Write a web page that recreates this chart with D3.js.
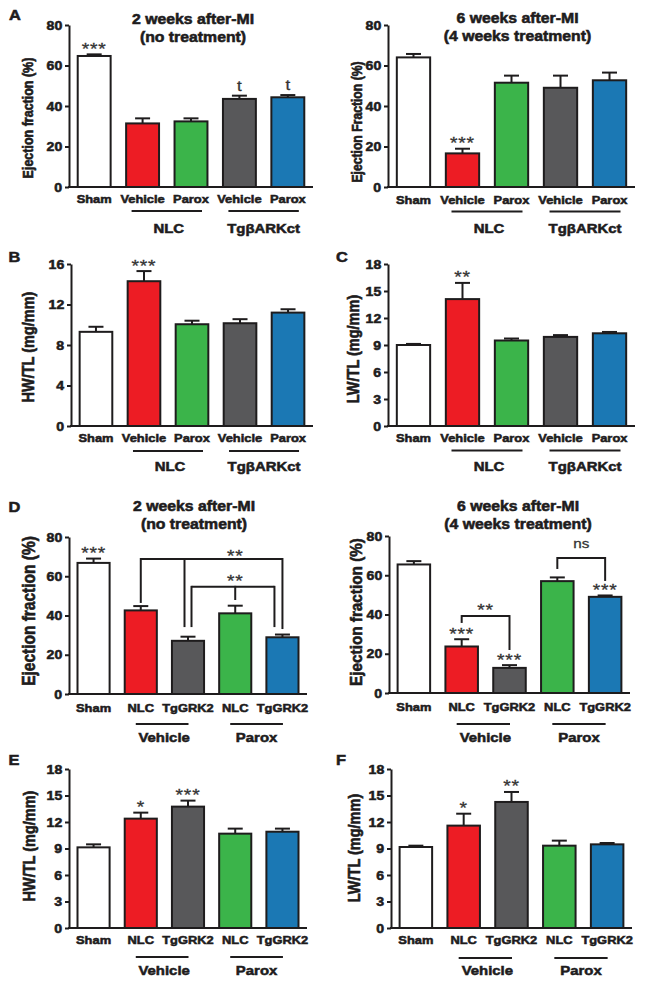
<!DOCTYPE html>
<html><head><meta charset="utf-8">
<script src="https://cdn.jsdelivr.net/npm/d3@7"></script>
<style>
body{margin:0;background:#fff}
svg text{font-family:"Liberation Sans",Arial,Helvetica,sans-serif;}
</style>
</head><body>
<svg id="c" width="645" height="985"></svg>
<script>
// ---------------- DATA ----------------
const catsTop = ["Sham","Vehicle","Parox","Vehicle","Parox"];
const catsBottom = ["Sham","NLC","TgGRK2","NLC","TgGRK2"];
const groupsTop = ["NLC","TgβARKct"];
const groupsBottom = ["Vehicle","Parox"];
const ticksEF = [0,20,40,60,80];
const ticksHW16 = [0,4,8,12,16];
const ticks18 = [0,3,6,9,12,15,18];

// A: ejection fraction, 2 weeks after MI (no treatment)
const efA2wk    = [64.7, 31.4, 32.4, 43.5, 44.3];
const efA2wkErr = [0.8, 2.5, 1.5, 1.6, 1.1];
const sigA2wk   = ["***","","","t","t"];
// A: ejection fraction, 6 weeks after MI (4 weeks treatment)
const efA6wk    = [64.0, 16.6, 51.5, 49.0, 52.7];
const efA6wkErr = [1.7, 2.3, 3.5, 6.0, 3.8];
const sigA6wk   = ["","***","","",""];
// B: HW/TL
const hwB    = [9.3, 14.3, 10.05, 10.15, 11.2];
const hwBErr = [0.5, 1.0, 0.35, 0.4, 0.33];
const sigB   = ["","***","","",""];
// C: LW/TL
const lwC    = [9.0, 14.1, 9.5, 9.9, 10.3];
const lwCErr = [0.12, 1.8, 0.22, 0.2, 0.15];
const sigC   = ["","**","","",""];
// D: ejection fraction, 2 weeks after MI
const efD2wk    = [66.8, 42.6, 27.1, 41.1, 28.9];
const efD2wkErr = [2.2, 2.2, 2.1, 3.9, 1.4];
const sigD2wk   = ["***","","","",""];
// D: ejection fraction, 6 weeks after MI
const efD6wk    = [65.5, 23.7, 12.8, 57.0, 49.0];
const efD6wkErr = [1.7, 3.7, 1.4, 1.9, 0.7];
const sigD6wk   = ["","***","***","","***"];
// E: HW/TL
const hwE    = [9.13, 12.38, 13.74, 10.68, 10.9];
const hwEErr = [0.34, 0.68, 0.68, 0.57, 0.35];
const sigE   = ["","*","***","",""];
// F: LW/TL
const lwF    = [9.17, 11.59, 14.27, 9.32, 9.47];
const lwFErr = [0.15, 1.35, 1.13, 0.57, 0.15];
const sigF   = ["","*","**","",""];

// comparison brackets (bar indices and levels in data units)
const bracketsD2wk = [
  {level:68.8, label:"**", labelAt:3, legs:[{i:1,end:46.4,dx:0},{i:2,end:34.1,dx:-3.5},{i:4,end:33.1,dx:0}]},
  {level:54.6, label:"**", labelAt:3, legs:[{i:2,end:34.1,dx:3.5},{i:3,end:47.9,dx:0},{i:4,end:34.1,dx:-8}]}
];
const bracketsD6wk = [
  {level:39.2, label:"**", labelAt:"mid", legs:[{i:1,end:35.7,dx:0},{i:2,end:21.9,dx:0}]},
  {level:68.8, label:"ns", labelAt:"mid", legs:[{i:3,end:63.2,dx:0},{i:4,end:57.1,dx:0}]}
];

// ---------------- STYLE ----------------
const colTop = ["#ffffff","#ed1c24","#3bb44a","#58585a","#1b78b4"];
const colBottom = ["#ffffff","#ed1c24","#58585a","#3bb44a","#1b78b4"];
const INK = "#1e1c1d";
const S = 1.13; // horizontal stretch of the lettering
const HEAVY = 0.55; // extra stroke to thicken bold lettering

const svg = d3.select("#c");

function txt(g, x, y, s, o = {}) {
  const tr = o.rot ? `translate(${x},${y}) rotate(-90) scale(1,${S})`
                   : `translate(${x},${y}) scale(${S},1)`;
  const weight = o.weight || "bold";
  const t = g.append("text").attr("transform", tr)
    .attr("text-anchor", o.anchor || "middle")
    .attr("font-size", o.size || 12)
    .attr("font-weight", weight)
    .attr("fill", o.fill || INK)
    .text(s);
  if (weight === "bold") t.attr("stroke", o.fill || INK).attr("stroke-width", HEAVY);
  if (o.ls) t.attr("letter-spacing", o.ls);
  return t;
}
function stars(g, x, y, s) {
  return txt(g, x, y, s, {size: 17, weight: "normal", fill: "#333", ls: 0.7})
    .attr("stroke", "#333").attr("stroke-width", 0.3);
}

const panels = [
  {cats:catsTop, colors:colTop, vals:efA2wk, errs:efA2wkErr, sig:sigA2wk, ticks:ticksEF,
   x0:69, x1:313, yT:25, yB:187, letter:"A", lx:9, ly:20,
   title:["2 weeks after-MI","(no treatment)"], tx:193, ty:[24,41.5],
   ylab:"Ejection fraction (%)", ylSize:12.5, ylx:33, yly:118,
   catY:203, groups:groupsTop, gType:"top", gY:211, gLY:233},
  {cats:catsTop, colors:colTop, vals:efA6wk, errs:efA6wkErr, sig:sigA6wk, ticks:ticksEF,
   x0:388, x1:635, yT:25, yB:187,
   title:["6 weeks after-MI","(4 weeks treatment)"], tx:517.5, ty:[23,41],
   ylab:"Ejection Fraction (%)", ylSize:12.2, ylx:362, yly:122,
   catY:204, groups:groupsTop, gType:"top", gY:211.5, gLY:232.5},
  {cats:catsTop, colors:colTop, vals:hwB, errs:hwBErr, sig:sigB, ticks:ticksHW16,
   x0:71, x1:313, yT:264, yB:426, letter:"B", lx:8.5, ly:262,
   ylab:"HW/TL (mg/mm)", ylSize:14.5, ylx:34, yly:347,
   catY:442, groups:groupsTop, gType:"top", gY:451, gLY:471},
  {cats:catsTop, colors:colTop, vals:lwC, errs:lwCErr, sig:sigC, ticks:ticks18,
   x0:388, x1:635, yT:264, yB:426, letter:"C", lx:336, ly:262,
   ylab:"LW/TL (mg/mm)", ylSize:14.5, ylx:359, yly:349,
   catY:442, groups:groupsTop, gType:"top", gY:450.5, gLY:471},
  {cats:catsBottom, colors:colBottom, vals:efD2wk, errs:efD2wkErr, sig:sigD2wk, ticks:ticksEF,
   x0:69, x1:307, yT:537, yB:694, letter:"D", lx:8.5, ly:512,
   title:["2 weeks after-MI","(no treatment)"], tx:194, ty:[511,529],
   ylab:"Ejection fraction (%)", ylSize:15.5, ylx:35, yly:611,
   catY:712, groups:groupsBottom, gType:"bottom", gY:724, gLY:741.5, brackets:bracketsD2wk},
  {cats:catsBottom, colors:colBottom, vals:efD6wk, errs:efD6wkErr, sig:sigD6wk, ticks:ticksEF,
   x0:389, x1:630, yT:536, yB:693,
   title:["6 weeks after-MI","(4 weeks treatment)"], tx:518, ty:[511,529],
   ylab:"Ejection fraction (%)", ylSize:15.3, ylx:362, yly:612,
   catY:711, groups:groupsBottom, gType:"bottom", gY:724, gLY:741.5, brackets:bracketsD6wk},
  {cats:catsBottom, colors:colBottom, vals:hwE, errs:hwEErr, sig:sigE, ticks:ticks18,
   x0:69, x1:307, yT:769, yB:928, letter:"E", lx:8.5, ly:765,
   ylab:"HW/TL (mg/mm)", ylSize:14.5, ylx:35, yly:846,
   catY:944, groups:groupsBottom, gType:"bottom", gY:957, gLY:975},
  {cats:catsBottom, colors:colBottom, vals:lwF, errs:lwFErr, sig:sigF, ticks:ticks18,
   x0:391, x1:632, yT:769, yB:928, letter:"F", lx:336, ly:765,
   ylab:"LW/TL (mg/mm)", ylSize:14.5, ylx:360, yly:848,
   catY:944, groups:groupsBottom, gType:"bottom", gY:958, gLY:975}
];

panels.forEach(p => {
  const g = svg.append("g");
  const max = d3.max(p.ticks);
  const y = d3.scaleLinear().domain([0, max]).range([p.yB, p.yT]);
  const x = d3.scaleBand().domain(d3.range(p.vals.length)).range([p.x0, p.x1])
    .paddingInner(0.32).paddingOuter(0.18);
  const bw = x.bandwidth();
  const cx = i => x(i) + bw / 2;

  // error bars (upper whiskers)
  p.vals.forEach((v, i) => {
    const top = y(v + p.errs[i]);
    g.append("line").attr("x1", cx(i)).attr("x2", cx(i)).attr("y1", y(v)).attr("y2", top)
      .attr("stroke", INK).attr("stroke-width", 2);
    g.append("line").attr("x1", cx(i) - 7.5).attr("x2", cx(i) + 7.5).attr("y1", top).attr("y2", top)
      .attr("stroke", INK).attr("stroke-width", 2);
  });
  // bars
  g.selectAll("rect.bar").data(p.vals).join("rect").attr("class", "bar")
    .attr("x", (d, i) => x(i)).attr("width", bw)
    .attr("y", d => y(d)).attr("height", d => y(0) - y(d))
    .attr("fill", (d, i) => p.colors[i]).attr("stroke", INK).attr("stroke-width", 2);

  // y axis
  const ax = g.append("g").attr("transform", `translate(${p.x0},0)`)
    .call(d3.axisLeft(y).tickValues(p.ticks).tickSize(4).tickPadding(2).tickSizeOuter(0));
  ax.select(".domain").attr("stroke", INK).attr("stroke-width", 2);
  ax.selectAll(".tick line").attr("stroke", INK).attr("stroke-width", 2);
  ax.selectAll(".tick text").attr("font-size", 12.5).attr("font-weight", "bold")
    .attr("fill", INK).attr("stroke", INK).attr("stroke-width", HEAVY)
    .attr("font-family", '"Liberation Sans",Arial,sans-serif')
    .attr("transform", `scale(${S},1)`);
  // x axis line
  g.append("line").attr("x1", p.x0 - 1).attr("x2", p.x1).attr("y1", p.yB).attr("y2", p.yB)
    .attr("stroke", INK).attr("stroke-width", 2);

  // category labels
  p.cats.forEach((c, i) => txt(g, cx(i), p.catY, c, {size: 11.4}));

  // groups
  const pairs = [[1, 2], [3, 4]];
  pairs.forEach(([a, b], k) => {
    const xa = p.gType === "top" ? cx(a) - 11 : cx(a) - 5;
    const xb = p.gType === "top" ? cx(b) + 11 : cx(b) + 0.5;
    g.append("line").attr("x1", xa).attr("x2", xb).attr("y1", p.gY).attr("y2", p.gY)
      .attr("stroke", INK).attr("stroke-width", 2);
    const mid = (xa + xb) / 2 + (k === 0 ? 2 : 0);
    txt(g, mid, p.gLY, p.groups[k], {size: 13.2});
  });

  // significance marks above bars
  p.sig.forEach((s, i) => {
    if (!s) return;
    const top = y(p.vals[i] + p.errs[i]);
    if (s === "t") txt(g, cx(i), top - 5, s, {size: 15, weight: "normal", fill: "#333"})
      .attr("stroke", "#333").attr("stroke-width", 0.3);
    else stars(g, cx(i), top + 0.5, s);
  });

  // brackets
  (p.brackets || []).forEach(b => {
    const ly = y(b.level);
    const xs = b.legs.map(l => cx(l.i) + l.dx);
    g.append("line").attr("x1", d3.min(xs)).attr("x2", d3.max(xs)).attr("y1", ly).attr("y2", ly)
      .attr("stroke", INK).attr("stroke-width", 2);
    b.legs.forEach((l, k) => {
      g.append("line").attr("x1", xs[k]).attr("x2", xs[k]).attr("y1", ly - 1).attr("y2", y(l.end))
        .attr("stroke", INK).attr("stroke-width", 2);
    });
    const lx = b.labelAt === "mid" ? (d3.min(xs) + d3.max(xs)) / 2 : cx(b.labelAt);
    if (b.label === "ns") txt(g, lx, ly - 10, b.label, {size: 13.5, weight: "normal", fill: "#333"})
      .attr("stroke", "#333").attr("stroke-width", 0.3);
    else stars(g, lx, ly + (b.level > 60 ? 3.5 : 0), b.label);
  });

  // y label
  txt(g, p.ylx, p.yly, p.ylab, {size: p.ylSize, rot: true});
  // title
  if (p.title) p.title.forEach((t, k) => txt(g, p.tx, p.ty[k], t, {size: 14}));
  // panel letter
  if (p.letter) txt(g, p.lx, p.ly, p.letter, {size: 14.5, anchor: "start"});
});
</script>
</body></html>
